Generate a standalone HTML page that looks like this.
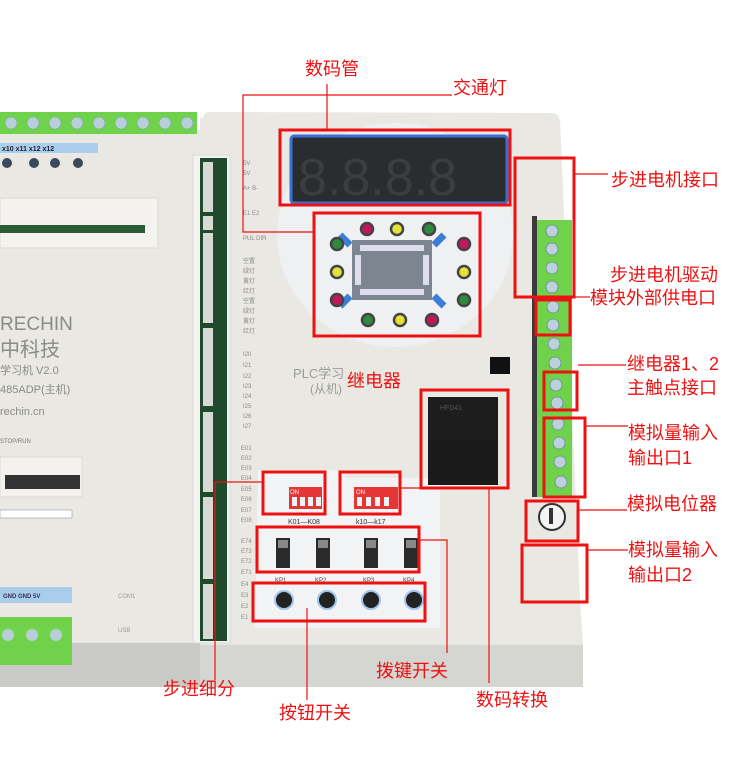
<!DOCTYPE html>
<html><head><meta charset="utf-8"><style>
html,body{margin:0;padding:0;background:#fff;}
svg{display:block;}
text{font-family:"Liberation Sans","Noto Sans CJK SC",sans-serif;}
.r{fill:#ee1111;font-size:18px;}
.b{fill:none;stroke:#ee1111;stroke-width:3;}
.l{fill:none;stroke:#ee1111;stroke-width:1.2;}
.s{fill:#8a8a8a;font-size:6px;}
</style></head><body>
<svg width="750" height="766" viewBox="0 0 750 766" xmlns="http://www.w3.org/2000/svg">
<rect width="750" height="766" fill="#fff"/>
<rect x="0" y="130" width="200" height="515" fill="#e9e8e3"/>
<rect x="0" y="643" width="200" height="44" fill="#cacac6"/>
<rect x="0" y="112" width="197" height="22" fill="#6fd24a"/>
<g fill="#b9cfd8" stroke="#7aa" stroke-width="0.6">
<circle cx="11" cy="123" r="6"/><circle cx="33" cy="123" r="6"/><circle cx="55" cy="123" r="6"/><circle cx="77" cy="123" r="6"/><circle cx="99" cy="123" r="6"/><circle cx="121" cy="123" r="6"/><circle cx="143" cy="123" r="6"/><circle cx="165" cy="123" r="6"/><circle cx="187" cy="123" r="6"/>
</g>
<rect x="0" y="143" width="98" height="10" fill="#a9cdea"/>
<text x="2" y="151" font-size="7" fill="#223" font-weight="bold">x10  x11  x12  x12</text>
<g fill="#3a4a5a"><circle cx="7" cy="163" r="5"/><circle cx="34" cy="163" r="5"/><circle cx="55" cy="163" r="5"/><circle cx="78" cy="163" r="5"/></g>
<rect x="0" y="198" width="158" height="50" fill="#f3f2ee" stroke="#d8d8d4"/>
<rect x="0" y="225" width="145" height="8" fill="#2d5a36"/>
<text x="0" y="330" font-size="19" fill="#8a8a8a" font-family="Liberation Mono">RECHIN</text>
<text x="0" y="356" font-size="20" fill="#8a8a8a">中科技</text>
<text x="0" y="374" font-size="11" fill="#8a8a8a">学习机 V2.0</text>
<text x="0" y="393" font-size="11" fill="#8a8a8a">485ADP(主机)</text>
<text x="0" y="415" font-size="11" fill="#8a8a8a" font-family="Liberation Mono">rechin.cn</text>
<text x="0" y="443" font-size="6" fill="#777">STOP/RUN</text>
<rect x="0" y="457" width="82" height="40" fill="#f3f2ee" stroke="#d8d8d4"/>
<rect x="5" y="475" width="75" height="14" fill="#333"/>
<rect x="0" y="510" width="72" height="8" fill="#fff" stroke="#999" stroke-width="0.6"/>
<rect x="0" y="587" width="72" height="16" fill="#a9cdea"/>
<text x="3" y="598" font-size="6" fill="#335" font-weight="bold">GND GND  5V</text>
<rect x="0" y="617" width="72" height="48" fill="#6fd24a"/>
<g fill="#b9cfd8"><circle cx="8" cy="635" r="6"/><circle cx="32" cy="635" r="6"/><circle cx="56" cy="635" r="6"/></g>
<text x="118" y="598" font-size="6" fill="#999">COM1</text>
<text x="118" y="632" font-size="6" fill="#999">USB</text>
<path d="M203 118 Q203 112 210 112 L552 113 Q558 113 560 120 L580 600 L583 645 L583 687 L200 687 L200 118 Z" fill="#e9e8e3"/>
<rect x="200" y="645" width="383" height="42" fill="#d5d5d1"/>
<rect x="193" y="155" width="37" height="488" fill="#f4f3ef" stroke="#d8d8d4"/>
<rect x="200" y="158" width="27" height="483" fill="#1f4a2c"/>
<g fill="#d8d8d4">
<rect x="203" y="162" width="10" height="50"/><rect x="203" y="216" width="10" height="14"/><rect x="203" y="233" width="10" height="90"/><rect x="203" y="328" width="10" height="78"/><rect x="203" y="412" width="10" height="80"/><rect x="203" y="497" width="10" height="82"/><rect x="203" y="584" width="10" height="55"/>
</g>
<ellipse cx="395" cy="235" rx="118" ry="112" fill="#eef0f2"/>
<path d="M258 470 L330 470 Q345 470 345 478 L430 478 Q440 478 440 490 L440 628 L255 628 Z" fill="#f1f3f5"/>
<rect x="291" y="136" width="216" height="67" rx="3" fill="#2a2d30" stroke="#3b6fd6" stroke-width="3"/>
<g font-size="52" fill="#3e3d3d" font-family="Liberation Mono"><text x="298" y="195">8.8.8.8</text></g>
<rect x="352" y="240" width="80" height="60" fill="#7d8590"/>
<path d="M350 245 l-10 -10 M434 245 l10 -10 M350 296 l-10 10 M434 296 l10 10" stroke="#3b7ed6" stroke-width="7"/>
<g fill="#dde">
<rect x="360" y="245" width="64" height="6"/><rect x="360" y="289" width="64" height="6"/><rect x="355" y="255" width="6" height="30"/><rect x="423" y="255" width="6" height="30"/>
</g>
<g stroke-width="2.5">
<circle cx="367" cy="229" r="6" fill="#c2185b" stroke="#444"/><circle cx="397" cy="229" r="6" fill="#e4e23a" stroke="#444"/><circle cx="429" cy="229" r="6" fill="#2e8b3c" stroke="#444"/>
<circle cx="337" cy="244" r="6" fill="#2e8b3c" stroke="#444"/><circle cx="337" cy="272" r="6" fill="#e4e23a" stroke="#444"/><circle cx="337" cy="300" r="6" fill="#c2185b" stroke="#444"/>
<circle cx="464" cy="244" r="6" fill="#c2185b" stroke="#444"/><circle cx="464" cy="272" r="6" fill="#e4e23a" stroke="#444"/><circle cx="464" cy="300" r="6" fill="#2e8b3c" stroke="#444"/>
<circle cx="368" cy="320" r="6" fill="#2e8b3c" stroke="#444"/><circle cx="400" cy="320" r="6" fill="#e4e23a" stroke="#444"/><circle cx="432" cy="320" r="6" fill="#c2185b" stroke="#444"/>
</g>
<g class="s">
<text x="243" y="165">5V</text><text x="243" y="175">5V</text><text x="243" y="190">A+ B-</text><text x="243" y="215">E1 E2</text><text x="243" y="240">PUL DIR</text>
<text x="243" y="263">空置</text><text x="243" y="273">绿灯</text><text x="243" y="283">黄灯</text><text x="243" y="293">红灯</text><text x="243" y="303">空置</text><text x="243" y="313">绿灯</text><text x="243" y="323">黄灯</text><text x="243" y="333">红灯</text>
<text x="243" y="356">I20</text><text x="243" y="367">I21</text><text x="243" y="378">I22</text><text x="243" y="388">I23</text><text x="243" y="398">I24</text><text x="243" y="408">I25</text><text x="243" y="418">I26</text><text x="243" y="428">I27</text>
<text x="241" y="450">E01</text><text x="241" y="460">E02</text><text x="241" y="470">E03</text><text x="241" y="480">E04</text><text x="241" y="491">E05</text><text x="241" y="501">E06</text><text x="241" y="512">E07</text><text x="241" y="522">E08</text>
<text x="241" y="543">E74</text><text x="241" y="553">E73</text><text x="241" y="563">E72</text><text x="241" y="574">E71</text><text x="241" y="586">E4</text><text x="241" y="597">E3</text><text x="241" y="608">E2</text><text x="241" y="619">E1</text>
</g>
<text x="293" y="378" font-size="13" fill="#9a9a9a">PLC学习</text>
<text x="310" y="393" font-size="12" fill="#9a9a9a">(从机)</text>
<rect x="490" y="357" width="20" height="17" fill="#111"/>
<rect x="428" y="397" width="70" height="44" fill="#1d1d1d"/>
<rect x="428" y="441" width="70" height="44" fill="#1a1a1a"/>
<text x="440" y="410" font-size="7" fill="#555">HFD41</text>
<rect x="289" y="487" width="33" height="22" fill="#e53535"/>
<rect x="354" y="487" width="44" height="22" fill="#e53535"/>
<g fill="#f2f2f2"><rect x="292" y="497" width="5" height="9"/><rect x="300" y="497" width="5" height="9"/><rect x="308" y="497" width="5" height="9"/><rect x="316" y="497" width="5" height="9"/><rect x="357" y="497" width="5" height="9"/><rect x="366" y="497" width="5" height="9"/><rect x="375" y="497" width="5" height="9"/><rect x="384" y="497" width="5" height="9"/></g>
<text x="290" y="494" font-size="6" fill="#fff">ON</text><text x="356" y="494" font-size="6" fill="#fff">ON</text>
<text x="288" y="524" font-size="7" fill="#333">K01—K08</text><text x="356" y="524" font-size="7" fill="#333">k10—k17</text>
<g fill="#2a2a2a"><rect x="276" y="538" width="14" height="30"/><rect x="316" y="538" width="14" height="30"/><rect x="364" y="538" width="14" height="30"/><rect x="404" y="538" width="14" height="30"/></g>
<g fill="#888"><rect x="278" y="540" width="10" height="8"/><rect x="318" y="540" width="10" height="8"/><rect x="366" y="540" width="10" height="8"/><rect x="406" y="540" width="10" height="8"/></g>
<text x="275" y="582" font-size="6" fill="#444">KP1</text><text x="315" y="582" font-size="6" fill="#444">KP2</text><text x="363" y="582" font-size="6" fill="#444">KP3</text><text x="403" y="582" font-size="6" fill="#444">KP4</text>
<g fill="#222" stroke="#9fc3ec" stroke-width="2"><circle cx="284" cy="600" r="9"/><circle cx="327" cy="600" r="9"/><circle cx="371" cy="600" r="9"/><circle cx="414" cy="600" r="9"/></g>
<rect x="537" y="220" width="35" height="277" fill="#6fd24a"/>
<rect x="532" y="216" width="5" height="281" fill="#3a3a3a"/>
<g fill="#bcd1dc" stroke="#6a8a9a" stroke-width="0.8">
<circle cx="552" cy="231" r="6"/><circle cx="552" cy="249" r="6"/><circle cx="552" cy="268" r="6"/><circle cx="552" cy="287" r="6"/><circle cx="553" cy="307" r="6"/><circle cx="553" cy="325" r="6"/><circle cx="554" cy="344" r="6"/><circle cx="555" cy="363" r="6"/><circle cx="556" cy="385" r="6"/><circle cx="557" cy="403" r="6"/><circle cx="558" cy="424" r="6"/><circle cx="559" cy="443" r="6"/><circle cx="560" cy="462" r="6"/><circle cx="561" cy="482" r="6"/>
</g>
<circle cx="552" cy="517" r="13" fill="#f4f4f4" stroke="#333" stroke-width="2"/>
<rect x="549" y="508" width="4" height="16" fill="#333"/>
<rect class="b" x="280" y="130" width="230" height="75"/>
<rect class="b" x="314" y="213" width="166" height="123"/>
<rect class="b" x="515" y="158" width="59" height="139"/>
<rect class="b" x="536" y="300" width="34" height="35"/>
<rect class="b" x="544" y="372" width="33" height="38"/>
<rect class="b" x="544" y="418" width="41" height="79"/>
<rect class="b" x="526" y="501" width="52" height="40"/>
<rect class="b" x="522" y="545" width="65" height="57"/>
<rect class="b" x="421" y="390" width="87" height="98"/>
<rect class="b" x="263" y="472" width="62" height="42"/>
<rect class="b" x="340" y="472" width="60" height="42"/>
<rect class="b" x="257" y="527" width="162" height="45"/>
<rect class="b" x="253" y="583" width="172" height="38"/>
<path class="l" d="M327 84 V130"/>
<path class="l" d="M452 95 H243 V232 H313"/>
<path class="l" d="M574 174 H608"/>
<path class="l" d="M574 297 H590"/>
<path class="l" d="M578 365 H626"/>
<path class="l" d="M585 426 H628"/>
<path class="l" d="M578 510 H627"/>
<path class="l" d="M587 550 H628"/>
<path class="l" d="M400 488 H421"/>
<path class="l" d="M489 488 V683"/>
<path class="l" d="M419 540 H447 V653"/>
<path class="l" d="M307 608 V700"/>
<path class="l" d="M263 482 H215 V680"/>
<text class="r" x="305" y="75">数码管</text>
<text class="r" x="453" y="94">交通灯</text>
<text class="r" x="611" y="186">步进电机接口</text>
<text class="r" x="610" y="281">步进电机驱动</text>
<text class="r" x="590" y="304">模块外部供电口</text>
<text class="r" x="627" y="370">继电器1、2</text>
<text class="r" x="627" y="394">主触点接口</text>
<text class="r" x="628" y="439">模拟量输入</text>
<text class="r" x="628" y="464">输出口1</text>
<text class="r" x="627" y="510">模拟电位器</text>
<text class="r" x="628" y="556">模拟量输入</text>
<text class="r" x="628" y="581">输出口2</text>
<text class="r" x="347" y="387">继电器</text>
<text class="r" x="376" y="677">拨键开关</text>
<text class="r" x="163" y="695">步进细分</text>
<text class="r" x="476" y="706">数码转换</text>
<text class="r" x="279" y="719">按钮开关</text>
</svg>
</body></html>
